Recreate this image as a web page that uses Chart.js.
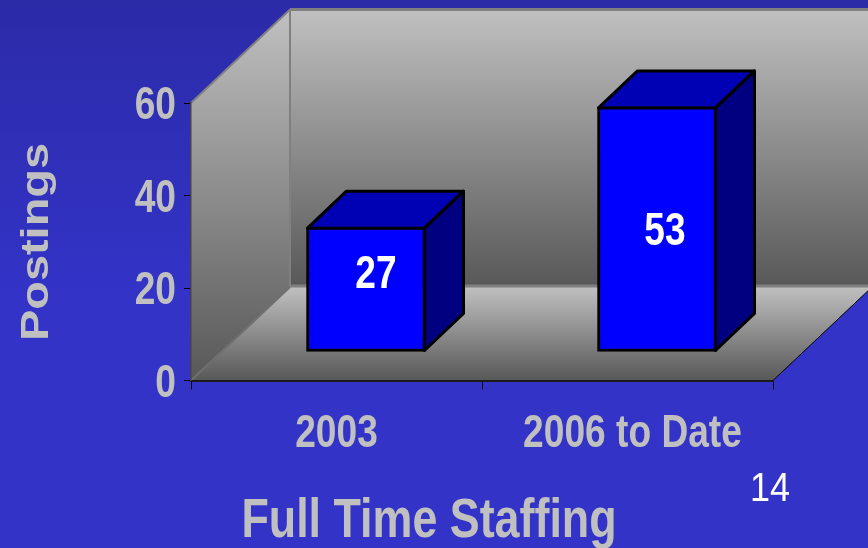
<!DOCTYPE html>
<html>
<head>
<meta charset="utf-8">
<title>Full Time Staffing</title>
<script src="https://cdn.jsdelivr.net/npm/chart.js@4"></script>
<style>
  html, body { margin: 0; padding: 0; width: 868px; height: 548px; overflow: hidden; }
  body { background: linear-gradient(#2b2ba8, #3333c8 55%, #3333c8); }
  canvas { display: block; }
</style>
</head>
<body>
<canvas id="chart" width="868" height="548"></canvas>
<script>
const categories = ['2003', '2006 to Date'];
const postings = [27, 53];
const yTicks = [0, 20, 40, 60];
const yTitle = 'Postings';
const chartTitle = 'Full Time Staffing';
const pageNumber = '14';

const grey = '#c0c0c0';
const sans = '"Liberation Sans", sans-serif';
// the original uses a narrow bold face, so squeeze the regular one
const narrowFont = 'bold 47px ' + sans;
const narrowX = 0.79;

// room depth, and how far into the room the bars stand
const depthX = 99, depthY = 93.5;
const barShiftX = 29.5, barShiftY = -28.5;
const barDepthX = 39, barDepthY = 37;
// the value labels were placed by hand in the original
const labelNudge = [[10, -18], [8, -1]];
const xLabelNudge = [0, 5];

function wallGradient(ctx, y0, y1) {
  const g = ctx.createLinearGradient(0, y0, 0, y1);
  g.addColorStop(0, '#c0c0c0');
  g.addColorStop(1, '#585858');
  return g;
}

function poly(ctx, pts) {
  ctx.beginPath();
  pts.forEach((p, i) => i ? ctx.lineTo(p[0], p[1]) : ctx.moveTo(p[0], p[1]));
  ctx.closePath();
}

function edge(ctx, a, b, color, width) {
  ctx.strokeStyle = color;
  ctx.lineWidth = width;
  ctx.beginPath();
  ctx.moveTo(a[0], a[1]);
  ctx.lineTo(b[0], b[1]);
  ctx.stroke();
}

// x is the text centre (or right edge with align 'right'), y the baseline
function stretchedText(ctx, text, x, y, font, color, sx, angle, align) {
  ctx.save();
  ctx.translate(x, y);
  ctx.rotate(angle || 0);
  ctx.scale(sx, 1);
  ctx.font = font;
  ctx.fillStyle = color;
  ctx.textAlign = align || 'center';
  ctx.textBaseline = 'alphabetic';
  ctx.fillText(text, 0, 0);
  ctx.restore();
}

const room3d = {
  id: 'room3d',
  beforeDraw(chart) {
    const { ctx, chartArea: a } = chart;
    const backL = a.left + depthX, backR = a.right + depthX;
    const backT = a.top - depthY, backB = a.bottom - depthY;
    ctx.save();
    ctx.fillStyle = wallGradient(ctx, backT, backB);
    ctx.fillRect(backL, backT, backR - backL, backB - backT);
    poly(ctx, [[a.left, a.top], [backL, backT], [backL, backB], [a.left, a.bottom]]);
    ctx.fillStyle = wallGradient(ctx, backT, a.bottom);
    ctx.fill();
    poly(ctx, [[a.left, a.bottom], [backL, backB], [backR, backB], [a.right, a.bottom]]);
    ctx.fillStyle = wallGradient(ctx, backB, a.bottom);
    ctx.fill();
    edge(ctx, [a.left, a.top], [backL, backT], '#808080', 2);
    edge(ctx, [backL, backT], [backR, backT], '#808080', 3);
    edge(ctx, [backL, backT], [backL, backB], '#808080', 2);
    edge(ctx, [a.left, a.bottom], [backL, backB], '#707070', 2);
    edge(ctx, [backL, backB - 1], [backR, backB - 1], '#808080', 3);
    edge(ctx, [a.right, a.bottom], [backR, backB], '#000000', 1);
    ctx.restore();
  },
  beforeDatasetsDraw(chart) {
    const ctx = chart.ctx;
    ctx.save();
    ctx.translate(barShiftX, barShiftY);
    chart.getDatasetMeta(0).data.forEach(bar => {
      const l = bar.x - bar.width / 2 + 1, r = bar.x + bar.width / 2 - 1;
      const t = bar.y + 1, b = bar.base - 1;
      ctx.strokeStyle = '#000000';
      ctx.lineWidth = 3;
      ctx.lineJoin = 'round';
      poly(ctx, [[l, t], [l + barDepthX, t - barDepthY], [r + barDepthX, t - barDepthY], [r, t]]);
      ctx.fillStyle = '#0000b4';
      ctx.fill();
      ctx.stroke();
      poly(ctx, [[r, t], [r + barDepthX, t - barDepthY], [r + barDepthX, b - barDepthY], [r, b]]);
      ctx.fillStyle = '#000080';
      ctx.fill();
      ctx.stroke();
    });
  },
  afterDatasetsDraw(chart) {
    const ctx = chart.ctx;
    ctx.restore();
    chart.getDatasetMeta(0).data.forEach((bar, i) => {
      const x = bar.x + barShiftX + labelNudge[i][0];
      const y = (bar.y + bar.base) / 2 + barShiftY + labelNudge[i][1] + 17;
      stretchedText(ctx, String(postings[i]), x, y, narrowFont, '#ffffff', narrowX);
    });
  },
  afterDraw(chart) {
    const ctx = chart.ctx;
    const { x: xScale, y: yScale } = chart.scales;
    xScale.ticks.forEach((t, i) => {
      const label = categories[t.value];
      stretchedText(ctx, label, xScale.getPixelForTick(i) + xLabelNudge[i], 447, narrowFont, grey, narrowX);
    });
    yScale.ticks.forEach((t, i) => {
      stretchedText(ctx, String(t.value), 176, yScale.getPixelForTick(i) + 16, narrowFont, grey, narrowX, 0, 'right');
    });
    stretchedText(ctx, yTitle, 48, 242, 'bold 38px ' + sans, grey, 1.235, -Math.PI / 2);
    stretchedText(ctx, chartTitle, 429, 537, 'bold 55px ' + sans, grey, 0.815);
    stretchedText(ctx, pageNumber, 770, 501, '40px ' + sans, '#ffffff', 0.9);
  }
};

new Chart(document.getElementById('chart'), {
  type: 'bar',
  data: {
    labels: categories,
    datasets: [{
      data: postings,
      backgroundColor: '#0000ff',
      borderColor: '#000000',
      borderWidth: 3,
      borderSkipped: false,
      barThickness: 119,
      clip: false
    }]
  },
  options: {
    responsive: false,
    animation: false,
    layout: { padding: { top: 103, right: 95, left: 0, bottom: 0 } },
    plugins: { legend: { display: false }, title: { display: false }, tooltip: { enabled: false } },
    scales: {
      x: {
        afterFit: scale => { scale.height = 167.5; },
        grid: { drawOnChartArea: false, color: '#000000', tickColor: '#000000', tickLength: 9 },
        border: { color: '#1a1a1a', width: 2 },
        ticks: { display: false }
      },
      y: {
        min: 0,
        max: 60,
        afterFit: scale => { scale.width = 191; },
        afterBuildTicks: scale => { scale.ticks = yTicks.map(value => ({ value })); },
        grid: { drawOnChartArea: false, color: '#000000', tickColor: '#000000', tickLength: 7 },
        border: { color: '#444444', width: 1.5 },
        ticks: { display: false }
      }
    }
  },
  plugins: [room3d]
});
</script>
</body>
</html>
